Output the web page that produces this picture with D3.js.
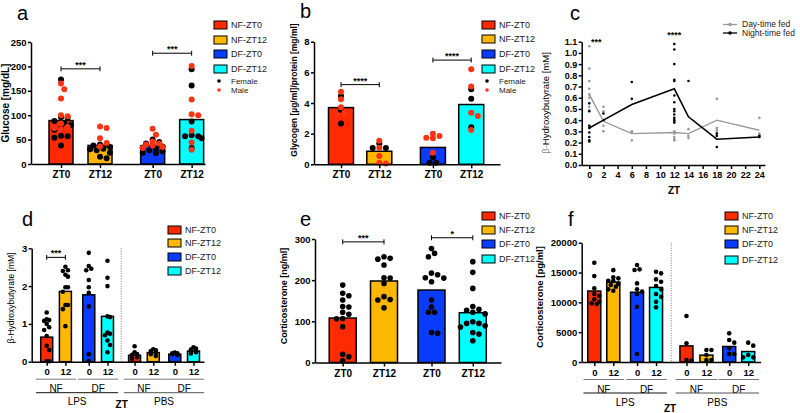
<!DOCTYPE html>
<html>
<head>
<meta charset="utf-8">
<script src="https://cdn.jsdelivr.net/npm/d3@7"></script>
<style>
  body { margin: 0; background: #fff; }
</style>
</head>
<body>
<svg id="chart" width="800" height="413"></svg>
<script>
// ---- data ----
const groups = ['NF-ZT0', 'NF-ZT12', 'DF-ZT0', 'DF-ZT12'];
const ztLabels = ['ZT0', 'ZT12', 'ZT0', 'ZT12'];
const hourLabels = ['0', '12', '0', '12', '0', '12', '0', '12'];
const dietLabels = ['NF', 'DF', 'NF', 'DF'];
const treatLabels = ['LPS', 'PBS'];
const sexLabels = ['Female', 'Male'];

// a: glucose [mg/dL]
const glucoseMean = [89, 38, 37, 91];
const glucoseFemale = [
  [173, 96, 95, 88, 84, 80, 73, 70, 58, 57, 54, 38],
  [40, 40, 38, 35, 31, 30, 28, 23, 15, 12],
  [50, 45, 42, 40, 36, 34, 31, 28, 26, 23, 22],
  [194, 161, 87, 59, 57, 57, 53, 33]
];
const glucoseMale = [
  [165, 153, 134, 98, 100, 83, 76, 74, 71],
  [77, 74, 53, 43, 36],
  [72, 60, 46, 42, 40, 38, 35, 33],
  [201, 132, 100, 102, 68, 44, 29]
];

// b: glycogen
const glycogenMean = [3.7, 0.85, 1.1, 3.9];
const glycogenFemale = [[4.46, 3.54, 2.67], [1.35, 1.06, 1.06], [0.46, 0.1, 0.1], [4.89, 4.28, 2.41]];
const glycogenMale = [[4.74, 4.24, 3.72, 3.37, 3.22], [1.54, 1.08, 0.54, 0.08, 0.06], [2.0, 1.84, 1.74, 1.7, 0.76], [6.2, 5.07, 3.37, 3.15, 2.24]];

// c: beta-hydroxybutyrate over ZT
const ztHours = [0, 2, 6, 12, 14, 18, 24];
const dayFedMean = [0.63, 0.39, 0.28, 0.29, 0.28, 0.40, 0.31];
const nightFedMean = [0.33, 0.40, 0.54, 0.68, 0.43, 0.23, 0.25];
const dayFedPoints = [
  [1.06, 0.86, 0.75, 0.68, 0.63, 0.60, 0.52, 0.49, 0.35, 0.33],
  [0.52, 0.48, 0.40, 0.35, 0.30],
  [0.30, 0.29, 0.22],
  [0.40, 0.38, 0.30, 0.28, 0.25, 0.23, 0.22],
  [0.32, 0.26, 0.24],
  [0.59, 0.33, 0.31, 0.29],
  [0.42, 0.28, 0.26, 0.25]
];
const nightFedPoints = [
  [0.55, 0.48, 0.35, 0.33, 0.29, 0.25, 0.22, 0.21],
  [0.46, 0.40],
  [0.74, 0.59],
  [1.08, 1.03, 0.90, 0.76, 0.75, 0.62, 0.56, 0.50, 0.48, 0.45, 0.42, 0.40, 0.38],
  [0.75],
  [0.28, 0.26, 0.16],
  [0.26, 0.25]
];
const seriesLabels = ['Day-time fed', 'Night-time fed'];

// d: beta-hydroxybutyrate, LPS then PBS
const bhbMean = [0.65, 1.86, 1.77, 1.2, 0.17, 0.24, 0.2, 0.28];
const bhbPoints = [
  [1.3, 1.12, 1.1, 1.08, 1.0, 0.91, 0.84, 0.68, 0.42, 0.31, 0.02, 0.01],
  [2.51, 2.42, 2.4, 2.3, 2.25, 1.97, 1.97, 1.85, 1.5, 1.5, 1.39, 0.94],
  [2.88, 2.53, 2.46, 2.42, 2.16, 1.97, 1.82, 1.46, 0.2, 0.02],
  [2.67, 2.22, 2.0, 1.2, 1.18, 0.77, 0.74, 0.7, 0.56, 0.44, 0.25],
  [0.41, 0.25, 0.2, 0.18, 0.12, 0.08],
  [0.33, 0.3, 0.28, 0.24, 0.2, 0.15],
  [0.24, 0.22, 0.22, 0.2, 0.2, 0.18],
  [0.38, 0.35, 0.32, 0.3, 0.28, 0.25, 0.22]
];

// e: corticosterone [ng/ml]
const corticoMean = [108, 198, 176, 121];
const corticoPoints = [
  [188, 168, 162, 152, 136, 135, 122, 117, 107, 106, 87, 20, 14, 4],
  [257, 253, 251, 237, 206, 205, 192, 160, 153, 152, 133],
  [277, 265, 257, 217, 213, 206, 205, 196, 152, 135, 122, 122, 73, 71],
  [245, 219, 180, 136, 129, 127, 122, 118, 99, 95, 95, 89, 86, 73, 69, 53]
];

// f: corticosterone [pg/ml], LPS then PBS
const corticoPgMean = [11900, 13400, 11700, 12500, 2700, 1150, 2600, 1750];
const corticoPgPoints = [
  [16650, 14400, 12350, 11400, 11060, 10500, 10100, 9830, 9720],
  [15400, 14190, 14020, 13630, 13600, 12900, 12630, 12180, 11950, 13100],
  [16260, 15530, 15420, 13180, 12180, 11790, 11400, 9270, 1340],
  [15140, 14860, 13850, 13460, 12740, 12180, 11400, 10950, 10110, 9160],
  [7710, 3130, 340, 220],
  [2010, 2010, 1170, 340, 340],
  [4800, 3690, 3240, 2290, 1340, 1340],
  [3240, 2740, 1170, 780, 780]
];

// ---- drawing ----
const svg = d3.select('#chart');
const font = '"Liberation Sans", Arial, Helvetica, sans-serif';
const groupColors = ['#ff2a00', '#ffb800', '#0a3cff', '#00ffff'];
const sexColors = ['#000', '#ff3311'];
svg.attr('font-family', font);

function styleAxis(sel, size) {
  sel.selectAll('.domain, .tick line').attr('stroke', '#000').attr('stroke-width', 1.5);
  sel.selectAll('text').attr('font-family', font).attr('font-size', size)
    .attr('font-weight', 'bold').attr('fill', '#000');
}

// deterministic column scatter so dots sit side by side like the original
function swarm(items, py, r, maxOff) {
  const placed = [];
  const step = r * 1.1;
  items.slice().sort((a, b) => b.v - a.v).forEach(it => {
    const yy = py(it.v);
    let best = 0, bestOv = Infinity;
    for (let k = 0; k <= 14 && bestOv > 0; k++) {
      for (const s of (k ? [1, -1] : [1])) {
        const dx = s * k * step;
        if (Math.abs(dx) > maxOff) continue;
        let ov = 0;
        placed.forEach(p => {
          const d = Math.hypot(p.dx - dx, p.yy - yy);
          if (d < 2 * r) ov += 2 * r - d;
        });
        if (ov < bestOv) { bestOv = ov; best = dx; }
        if (ov === 0) break;
      }
    }
    it.dx = best; it.yy = yy;
    placed.push(it);
  });
  return items;
}

function bracket(g, x1, x2, yy, label) {
  g.append('path')
    .attr('d', `M${x1},${yy - 2.5}V${yy + 2.5}M${x1},${yy}H${x2}M${x2},${yy - 2.5}V${yy + 2.5}`)
    .attr('stroke', '#000').attr('stroke-width', 1).attr('fill', 'none');
  g.append('text').attr('x', (x1 + x2) / 2).attr('y', yy - 1)
    .attr('text-anchor', 'middle').attr('font-size', 9).attr('font-weight', 'bold').text(label);
}

function legend(g, lx, rows, withSex) {
  groups.forEach((name, i) => {
    g.append('rect').attr('x', lx).attr('y', rows[i] - 4).attr('width', 13).attr('height', 8)
      .attr('fill', groupColors[i]).attr('stroke', '#000').attr('stroke-width', 1);
    g.append('text').attr('x', lx + 17).attr('y', rows[i]).attr('dy', '0.35em')
      .attr('font-size', 9).attr('fill', '#222').text(name);
  });
  if (withSex) {
    sexLabels.forEach((s, i) => {
      const yy = rows[3] + 12 + i * 9;
      g.append('circle').attr('cx', lx + 5).attr('cy', yy).attr('r', 1.8).attr('fill', sexColors[i]);
      g.append('text').attr('x', lx + 17).attr('y', yy).attr('dy', '0.35em')
        .attr('font-size', 8).attr('fill', '#222').text(s);
    });
  }
}

function yTitle(g, x, y, text, size, weight) {
  g.append('text').attr('transform', `translate(${x},${y}) rotate(-90)`)
    .attr('text-anchor', 'middle').attr('font-size', size).attr('font-weight', weight || 'bold').text(text);
}

function letter(g, x, y, t) {
  g.append('text').attr('x', x).attr('y', y).attr('font-size', 20).text(t);
}

function barPanel(o) {
  const g = svg.append('g');
  const x = d3.scaleLinear()
    .domain([(o.axisX[0] - o.first) / o.unit, (o.axisX[1] - o.first) / o.unit])
    .range(o.axisX);
  const y = d3.scaleLinear().domain(o.yDomain).range(o.yRange);

  if (o.divider != null) {
    const xd = x(o.divider);
    g.append('line').attr('x1', xd).attr('x2', xd).attr('y1', o.yRange[1]).attr('y2', o.yRange[0])
      .attr('stroke', '#555').attr('stroke-width', 0.8).attr('stroke-dasharray', '1,1.5');
  }

  g.selectAll('rect.bar').data(o.means).join('rect').attr('class', 'bar')
    .attr('x', (d, i) => x(o.slots[i]) - o.barW / 2)
    .attr('y', d => y(d))
    .attr('width', o.barW)
    .attr('height', d => y(0) - y(d))
    .attr('fill', (d, i) => groupColors[i % 4])
    .attr('stroke', '#000').attr('stroke-width', 1.5);

  o.series.forEach((ser, si) => {
    ser.forEach((vals, i) => {
      const items = swarm(vals.map(v => ({ v })), y, o.r, o.barW / 2 - 1);
      g.selectAll(null).data(items).join('circle')
        .attr('cx', d => x(o.slots[i]) + d.dx)
        .attr('cy', d => y(d.v))
        .attr('r', o.r)
        .attr('fill', o.seriesColors[si]);
    });
  });

  const ya = g.append('g').attr('transform', `translate(${o.axisX[0]},0)`)
    .call(d3.axisLeft(y).tickValues(o.yTicks).tickFormat(d3.format('d'))
      .tickSize(3).tickSizeOuter(0).tickPadding(1.5));
  styleAxis(ya, o.yFont || 9.5);
  const xa = g.append('g').attr('transform', `translate(0,${o.yRange[0]})`)
    .call(d3.axisBottom(x).tickValues(o.slots).tickSize(4).tickSizeOuter(0)
      .tickFormat((d, i) => o.xLabels[i]));
  styleAxis(xa, o.xFont || 10);

  (o.sig || []).forEach(s => bracket(g, x(o.slots[s[0]]), x(o.slots[s[1]]), y(s[2]), s[3]));
  return { g, x, y };
}

// bracket rows under the split panels (diet, then treatment)
function groupAxis(g, x, slots, y0, ztPos) {
  const half = 0.57;
  dietLabels.forEach((lab, i) => {
    const a = x(slots[2 * i] - half), b = x(slots[2 * i + 1] + half);
    g.append('line').attr('x1', a).attr('x2', b).attr('y1', y0 + 17.5).attr('y2', y0 + 17.5)
      .attr('stroke', '#777').attr('stroke-width', 1);
    g.append('text').attr('x', (a + b) / 2).attr('y', y0 + 27).attr('dy', '0.35em')
      .attr('text-anchor', 'middle').attr('font-size', 10).text(lab);
  });
  treatLabels.forEach((lab, i) => {
    const a = x(slots[4 * i] - half), b = x(slots[4 * i + 3] + half);
    g.append('line').attr('x1', a).attr('x2', b).attr('y1', y0 + 31).attr('y2', y0 + 31)
      .attr('stroke', i ? '#555' : '#111').attr('stroke-width', 1);
    g.append('text').attr('x', (a + b) / 2).attr('y', y0 + 40).attr('dy', '0.35em')
      .attr('text-anchor', 'middle').attr('font-size', 10).text(lab);
  });
  g.append('text').attr('x', ztPos[0]).attr('y', ztPos[1]).attr('dy', '0.35em')
    .attr('text-anchor', 'middle').attr('font-size', 10).attr('font-weight', 'bold').text('ZT');
}

// a
const pa = barPanel({
  axisX: [31, 205], first: 61, unit: 39, slots: [0, 1, 2.35, 3.35],
  yDomain: [0, 250], yRange: [164, 42], yTicks: d3.range(0, 251, 50),
  barW: 24, r: 3, means: glucoseMean, xLabels: ztLabels,
  series: [glucoseFemale, glucoseMale], seriesColors: sexColors,
  sig: [[0, 1, 195, '***'], [2, 3, 227, '***']]
});
letter(pa.g, 17, 20, 'a');
yTitle(pa.g, 9, 103, 'Glucose [mg/dL]', 10);
legend(pa.g, 214, [25, 40, 54, 69], true);

// b
const pb = barPanel({
  axisX: [314, 500], first: 341, unit: 38.3, slots: [0, 1, 2.4, 3.4],
  yDomain: [0, 8], yRange: [164.3, 41.7], yTicks: [0, 2, 4, 6, 8],
  barW: 25, r: 3, means: glycogenMean, xLabels: ztLabels,
  series: [glycogenFemale, glycogenMale], seriesColors: sexColors,
  sig: [[0, 1, 5.2, '****'], [2, 3, 6.8, '****']]
});
letter(pb.g, 300, 18, 'b');
yTitle(pb.g, 297, 90, 'Glycogen [µg/ml]/protein [mg/ml]', 8.5);
legend(pb.g, 482, [25, 39, 54, 69], true);

// c
(function () {
  const g = svg.append('g');
  const x = d3.scaleLinear().domain([-1.07, 24.8]).range([581.7, 765]);
  const y = d3.scaleLinear().domain([0, 1.1]).range([165, 41.7]);
  const cols = ['#999', '#000'];
  [dayFedPoints, nightFedPoints].forEach((ser, si) => {
    ser.forEach((vals, i) => {
      g.selectAll(null).data(vals).join('circle')
        .attr('cx', x(ztHours[i])).attr('cy', d => y(d)).attr('r', 1.3).attr('fill', cols[si]);
    });
  });
  const line = d3.line().x((d, i) => x(ztHours[i])).y(d => y(d));
  [dayFedMean, nightFedMean].forEach((m, si) => {
    g.append('path').attr('d', line(m)).attr('fill', 'none')
      .attr('stroke', cols[si]).attr('stroke-width', si ? 1.6 : 1.4);
  });
  const ya = g.append('g').attr('transform', 'translate(581.7,0)')
    .call(d3.axisLeft(y).tickValues(d3.range(0, 12).map(d => d / 10)).tickFormat(d3.format('.1f'))
      .tickSize(3).tickSizeOuter(0).tickPadding(1.5));
  styleAxis(ya, 9);
  const xa = g.append('g').attr('transform', 'translate(0,165)')
    .call(d3.axisBottom(x).tickValues(d3.range(0, 25, 2)).tickSize(4).tickSizeOuter(0));
  styleAxis(xa, 9);
  g.append('text').attr('x', 674).attr('y', 190).attr('dy', '0.35em').attr('text-anchor', 'middle')
    .attr('font-size', 10).attr('font-weight', 'bold').text('ZT');
  g.append('text').attr('x', x(0) + 7).attr('y', 45).attr('text-anchor', 'middle')
    .attr('font-size', 9).attr('font-weight', 'bold').text('***');
  g.append('text').attr('x', x(12)).attr('y', 38).attr('text-anchor', 'middle')
    .attr('font-size', 9).attr('font-weight', 'bold').text('****');
  const t = g.append('text').attr('transform', 'translate(549,103) rotate(-90)')
    .attr('text-anchor', 'middle').attr('font-size', 9.5);
  t.append('tspan').attr('fill', '#888').text('β-');
  t.append('tspan').attr('fill', '#000').text('Hydroxybutyrate [mM]');
  letter(g, 570, 20, 'c');
  seriesLabels.forEach((s, i) => {
    const yy = 24.5 + i * 8.5;
    g.append('line').attr('x1', 723).attr('x2', 737).attr('y1', yy).attr('y2', yy)
      .attr('stroke', cols[i]).attr('stroke-width', 1.3);
    g.append('circle').attr('cx', 730).attr('cy', yy).attr('r', 1.8).attr('fill', cols[i]);
    g.append('text').attr('x', 742).attr('y', yy).attr('dy', '0.35em').attr('font-size', 8.5)
      .attr('fill', '#222').text(s);
  });
})();

// d
const dSlots = [0, 1, 2.25, 3.25, 4.7, 5.7, 6.85, 7.85];
const pd = barPanel({
  axisX: [31.7, 204], first: 46.7, unit: 18.7, slots: dSlots, divider: 3.98,
  yDomain: [0, 3], yRange: [361.7, 248.3], yTicks: [0, 1, 2, 3],
  barW: 12, r: 2.3, means: bhbMean, xLabels: hourLabels, xFont: 9.5,
  series: [bhbPoints], seriesColors: ['#000'],
  sig: [[0, 1, 2.76, '***']]
});
letter(pd.g, 22, 226, 'd');
yTitle(pd.g, 14, 298, 'β-Hydroxybutyrate [mM]', 8.5, 'normal');
legend(pd.g, 168, [230, 243, 257, 271], false);
groupAxis(pd.g, pd.x, dSlots, 361.7, [121.7, 404]);

// e
const pe = barPanel({
  axisX: [315, 501], first: 342.7, unit: 41.3, slots: [0, 1, 2.15, 3.15],
  yDomain: [0, 300], yRange: [362.5, 239], yTicks: [0, 100, 200, 300],
  barW: 27, r: 2.8, means: corticoMean, xLabels: ztLabels,
  series: [corticoPoints], seriesColors: ['#000'],
  sig: [[0, 1, 293, '***'], [2, 3, 303, '*']]
});
letter(pe.g, 300, 226, 'e');
yTitle(pe.g, 287, 296, 'Corticosterone [ng/ml]', 9);
legend(pe.g, 482, [216, 230, 244, 259], false);

// f
const fSlots = [0, 1, 2.25, 3.25, 4.85, 5.9, 7.1, 8.1];
const pf = barPanel({
  axisX: [581.7, 760.7], first: 594.3, unit: 19, slots: fSlots, divider: 4.05,
  yDomain: [0, 20000], yRange: [362, 242.7], yTicks: d3.range(0, 20001, 5000),
  barW: 13, r: 2.3, means: corticoPgMean, xLabels: hourLabels, xFont: 9.5,
  series: [corticoPgPoints], seriesColors: ['#000']
});
letter(pf.g, 568, 226, 'f');
yTitle(pf.g, 543, 297, 'Corticosterone [pg/ml]', 9.5);
legend(pf.g, 725, [216, 230, 244, 260], false);
groupAxis(pf.g, pf.x, fSlots, 362, [670, 408]);
</script>
</body>
</html>
